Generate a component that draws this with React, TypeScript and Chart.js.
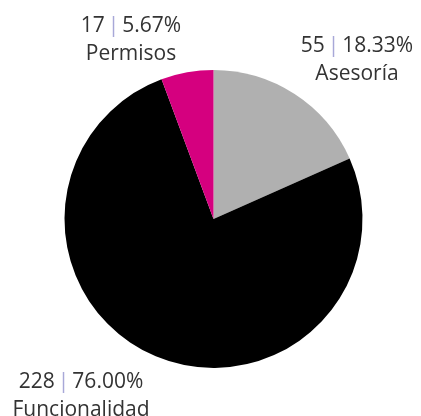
import React, { useEffect, useRef } from "react";
import { Chart, registerables } from "chart.js";

Chart.register(...registerables);

const categories = ["Asesoría", "Funcionalidad", "Permisos"];
const counts = [55, 228, 17];
const percentLabels = ["18.33%", "76.00%", "5.67%"];
const colors = ["#b0b0b0", "#000000", "#d5007f"];

// label anchor (baseline of first line) in units of radius from center
const labelOffsets = [
  [0.963, -1.121],
  [-0.889, 1.134],
  [-0.554, -1.258],
];

const labelPlugin = {
  id: "sliceLabels",
  afterDraw(chart: any) {
    const ctx = chart.ctx;
    const meta = chart.getDatasetMeta(0);
    const arc0 = meta.data[0];
    const cx = arc0.x;
    const cy = arc0.y;
    const r = arc0.outerRadius;
    const font = "21px 'Open Sans', sans-serif";
    const gap = 3;
    ctx.save();
    ctx.font = font;
    ctx.textBaseline = "alphabetic";
    categories.forEach((cat, i) => {
      const [ox, oy] = labelOffsets[i];
      const x = cx + ox * r;
      const y = cy + oy * r;
      const a = String(counts[i]);
      const p = "|";
      const b = percentLabels[i];
      const wa = ctx.measureText(a).width;
      const wp = ctx.measureText(p).width;
      const wb = ctx.measureText(b).width;
      const total = wa + gap + wp + gap + wb;
      const sx = x - total / 2;
      ctx.textAlign = "left";
      ctx.fillStyle = "#333333";
      ctx.fillText(a, sx, y);
      ctx.fillStyle = "#a8a8d8";
      ctx.fillText(p, sx + wa + gap, y);
      ctx.fillStyle = "#333333";
      ctx.fillText(b, sx + wa + gap + wp + gap, y);
      ctx.textAlign = "center";
      ctx.fillText(cat, x, y + 28);
    });
    ctx.restore();
  },
};

export default function App() {
  const ref = useRef<HTMLCanvasElement>(null);
  useEffect(() => {
    if (!ref.current) return;
    const chart = new Chart(ref.current, {
      type: "pie",
      data: {
        labels: categories,
        datasets: [
          {
            data: counts,
            backgroundColor: colors,
            borderWidth: 0,
          },
        ],
      },
      options: {
        responsive: false,
        animation: false,
        layout: { padding: { left: 64.5, right: 58.5, top: 70, bottom: 48 } },
        plugins: {
          legend: { display: false },
          tooltip: { enabled: false },
        },
      },
      plugins: [labelPlugin],
    });
    return () => chart.destroy();
  }, []);
  return (
    <div style={{ position: "fixed", left: 0, top: 0, width: 421, height: 416, background: "#fff" }}>
      <canvas ref={ref} width={421} height={416} style={{ display: "block" }} />
    </div>
  );
}
